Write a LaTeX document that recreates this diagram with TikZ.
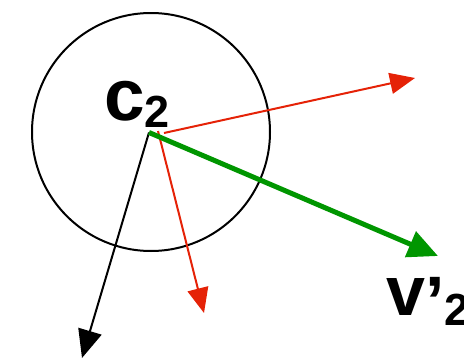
\documentclass[tikz,border=0pt]{standalone}
\usepackage{fontspec}
\setmainfont{Liberation Sans}
\usetikzlibrary{arrows.meta}
\definecolor{vred}{RGB}{229,34,7}
\definecolor{vgreen}{RGB}{0,150,0}
\tikzset{
  redvec/.style={draw=vred, line width=2pt, -{Triangle[length=25pt,width=21pt]}},
  blackvec/.style={draw=black, line width=2pt, -{Triangle[length=28pt,width=24pt]}},
  greenvec/.style={draw=vgreen, line width=5pt, -{Triangle[length=30pt,width=27pt]}},
  lbl/.style={anchor=base west, inner sep=0pt, font=\bfseries}
}
\begin{document}
\begin{tikzpicture}[x=1pt,y=1pt]
\useasboundingbox (0,0) rectangle (464,360);
\node[draw, circle, line width=2pt, minimum size=238pt, inner sep=0pt] (circ) at (151,228) {};
\coordinate (o) at (149,227.5);
\coordinate (r1s) at (164,227);
\coordinate (r2s) at (158,229);
\coordinate (r1e) at (415,282);
\coordinate (r2e) at (204,47);
\coordinate (be) at (82,2);
\coordinate (ge) at (438,104);
\draw[redvec] (r1s) -- (r1e);
\draw[redvec] (r2s) -- (r2e);
\draw[blackvec] (o) -- (be);
\draw[greenvec] (o) -- (ge);
\node[lbl] (c2) at (104,240) {\fontsize{73}{73}\selectfont c\raisebox{-7pt}{\fontsize{45}{45}\selectfont 2}};
\node[lbl] (v2) at (386,45) {\fontsize{70}{70}\selectfont v\raisebox{-10pt}{’}\raisebox{-10pt}{\fontsize{45}{45}\selectfont 2}};
\end{tikzpicture}
\end{document}
